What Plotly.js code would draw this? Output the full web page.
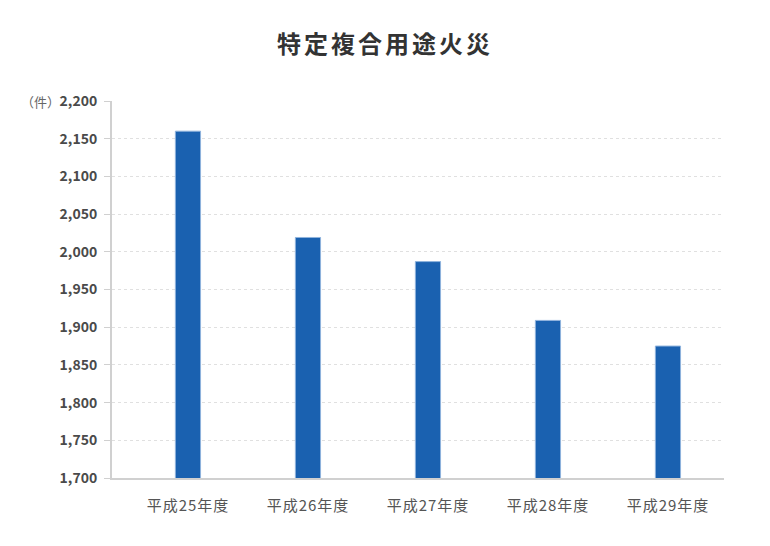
<!DOCTYPE html>
<html>
<head>
<meta charset="utf-8">
<script src="https://cdn.plot.ly/plotly-3.0.1.min.js"></script>
<style>
  html, body { margin: 0; padding: 0; background: #fff; }
  #chart { width: 770px; height: 546px; }
  #chart .gtitle { letter-spacing: 3px; }
  #chart .xtick text { letter-spacing: 1px; }
</style>
</head>
<body>
<div id="chart"></div>
<script>
var years = ['平成25年度', '平成26年度', '平成27年度', '平成28年度', '平成29年度'];
var fires = [2160, 2019, 1987, 1909, 1875];
var yTicks = [1700, 1750, 1800, 1850, 1900, 1950, 2000, 2050, 2100, 2150, 2200];
var yTickText = ['1,700', '1,750', '1,800', '1,850', '1,900', '1,950', '2,000', '2,050', '2,100', '2,150', '2,200'];

var font = '"Noto Sans CJK JP", "Noto Sans", sans-serif';

var trace = {
  type: 'bar',
  x: [0, 1, 2, 3, 4],
  y: fires,
  width: 0.21,
  marker: {
    color: '#1a61b0',
    line: { color: '#8fb3dd', width: 1 }
  },
  hoverinfo: 'y'
};

var layout = {
  width: 770,
  height: 546,
  margin: { l: 112, r: 46, t: 101, b: 68 },
  paper_bgcolor: '#fff',
  plot_bgcolor: '#fff',
  showlegend: false,
  title: {
    text: '<b>特定複合用途火災</b>',
    font: { family: font, size: 24, color: '#333' },
    x: 0.5,
    xanchor: 'center',
    y: 0.918,
    yanchor: 'middle'
  },
  xaxis: {
    range: [-0.633, 4.467],
    tickvals: [0, 1, 2, 3, 4],
    ticktext: years,
    showgrid: false,
    zeroline: false,
    showline: true,
    linecolor: '#d0d0d0',
    linewidth: 2,
    ticks: '',
    ticklabelstandoff: 13,
    tickfont: { family: font, size: 15, color: '#555' }
  },
  yaxis: {
    range: [1700, 2200],
    tickvals: yTicks,
    ticktext: yTickText,
    showgrid: true,
    gridcolor: '#e0e0e0',
    griddash: 'dot',
    gridwidth: 1,
    zeroline: false,
    showline: true,
    linecolor: '#d0d0d0',
    linewidth: 2,
    ticks: 'outside',
    ticklen: 6,
    tickcolor: '#d0d0d0',
    tickwidth: 1,
    ticklabelstandoff: 4,
    tickfont: { family: font, size: 14, color: '#4a4a4a', weight: 600 }
  },
  annotations: [{
    text: '（件）',
    xref: 'paper', yref: 'paper',
    x: 0, y: 1,
    xshift: -50,
    xanchor: 'right', yanchor: 'middle',
    showarrow: false,
    font: { family: font, size: 13, color: '#666' }
  }]
};

Plotly.newPlot('chart', [trace], layout, { displayModeBar: false, staticPlot: true });
</script>
</body>
</html>
